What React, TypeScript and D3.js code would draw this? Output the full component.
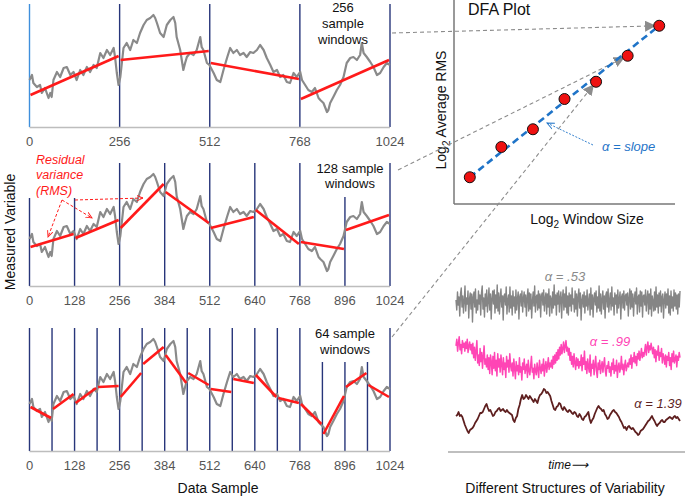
import React from 'react';
import * as d3 from 'd3';

// ---------- data ----------
const signalSample = [0,7,11,21,30,35,44,54,59,63,68,78,87,97,106,116,125,134,144,153,163,172,182,191,201,210,220,229,239,243,248,253,258,267,276,286,295,305,314,324,333,343,352,357,362,371,381,390,400,409,414,418,428,437,442,447,456,466,475,485,489,494,504,511,523,532,542,551,561,570,579,589,598,608,617,627,636,646,655,665,674,684,693,703,712,721,731,740,750,759,769,774,783,792,802,811,821,826,835,845,849,854,863,873,882,892,901,911,920,930,939,944,949,958,968,977,987,996,1006,1015,1024];
const signalValue = [47,52,44,40,42,34,39,29,34,30,47,55,50,59,60,52,55,47,57,52,60,55,62,59,74,69,77,72,79,70,54,42,50,79,84,77,87,84,94,102,107,109,112,109,104,94,90,102,107,110,104,90,77,57,64,70,74,72,77,90,80,77,64,62,54,47,45,57,69,79,74,77,72,74,70,75,74,77,82,77,69,62,55,57,50,52,45,44,54,50,55,47,42,37,35,39,29,27,24,15,17,24,30,37,42,50,64,69,70,67,72,84,74,70,65,60,52,54,60,64,62];

const fits256 = [[32,71],[67,76],[64,48],[28,67]];
const fits128 = [[39,52],[48,66],[58,102],[94,63],[58,69],[76,42],[44,37],[56,71]];
const fits64 = [[44,33],[42,57],[48,63],[64,65],[54,78],[87,104],[96,68],[78,66],[62,59],[72,68],[76,54],[53,48],[47,27],[17,55],[64,78],[66,54]];

const ticks256 = [0,256,512,768,1024];
const ticks128 = [0,128,256,384,512,640,768,896,1024];

const windowSizes = [4,8,16,32,64,128,256];
const log2AvgRMS = [1.07,2.28,2.99,4.2,4.89,5.93,7.13];

const grayNoise = [
  3,-7,11,-2,6,-13,9,15,-4,7,-10,2,17,-8,5,-1,12,-15,4,10,-6,9,-19,6,11,-4,14,-10,3,-7,
  12,-1,8,-12,10,17,-6,5,-14,9,-3,13,-9,2,15,-7,9,-16,4,12,-1,13,-10,8,-5,18,-8,10,-11,5,
  14,-4,7,-17,7,9,-2,16,-11,3,8,-9,16,-5,7,-12,12,-3,6,-10,13,-7,4,11,-16,6,9,-3,12,-9,
  5,11,-4,8,-13,5,14,-8,10,-6,9,-15,2,11,-3,17,-9,6,8,-7,12,-5,9,-14,7,10,-2,13,-8,5,
  10,-11,9,-4,14,-13,7,4,-10,11,-5,18,-2,8,-12,10,-1,12,-9,6,11,-15,5,13,-7,9,-4,16,-10,7,
  -12,10,-3,8,-8,15,-1,4,-9,12,-6,9,-13,6,14,-5,10,-17,3,8,-4,11,-10,7,-3,13,-7,2,9,-12,
  15,-6,8,-14,5,10,-2,12,-9,6,-5,17,-8,9,-11,4,12,-6,7,-15,8,11,-4,14,-9,3,10,-7,16,-3,
  5,-12,10,-1,8,-10,13,-5,4,11,-16,6,9,-5,12,-7,7,9,-2,10,-13,5,14,-6,12,-4,9,-13,4,11,
  -1,15,-11,6,8,-9,12,-3,11,-14,7,8,-2,13,-8,5,12,-11,9,-6,14,-13,7,2,-8,11,-7,16,-4,8,
  -10,10,-3,12,-9,6,9,-15,3,11,-5,9,-2,14,-10,7,-12,12,-5,6,-8,13,-3,10,-6,8,-11,9,-4,12
];
const pinkNoise = [
  10,15,6,12,17,7,11,4,14,9,12,6,13,8,15,5,10,13,7,11,
  4,12,1,9,-1,6,14,-3,3,-5,8,-2,5,-7,2,10,-4,0,-6,3,
  -8,1,-11,3,-2,-12,2,-7,5,-9,-1,-13,4,-6,0,-10,3,-4,-12,1,-8,-3,-14,2,-6,-1,-10,4,-5,-9,
  -3,-13,0,-7,-15,-2,-9,-5,-12,1,-10,-6,-16,-3,-8,0,-11,-7,-4,-14,-1,-9,-12,-5,2,-10,-7,-15,-4,-9,
  -12,-3,-8,-14,-1,-7,-11,-4,-9,0,-13,-6,-2,-10,-5,1,-8,-3,-6,-1,
  -7,2,-4,3,-3,5,-1,7,0,9,3,11,4,8,13,5,10,14,6,9,
  3,8,-1,5,-4,2,-6,4,-3,-8,1,-5,0,-7,-2,
  -5,3,-9,1,-4,6,-8,-2,-11,0,-6,-10,3,-13,-4,-7,-1,-12,-5,2,-9,-14,-3,-8,-1,-11,-6,-2,-10,-4,1,-9,-13,-5,-7,
  -2,-10,-6,-13,-3,-8,0,-11,-5,-9,-1,-14,-6,-3,-10,-7,2,-8,-4,-12,-5,-1,-9,-6,-3,
  -6,0,-4,3,-7,1,-2,5,-3,2,-5,4,0,6,-1,3,8,1,5,2,
  6,11,3,9,13,5,10,7,12,8,
  4,9,1,7,-2,6,3,10,-1,5,2,8,-3,4,1,
  -4,3,-6,2,-1,5,-5,1,-8,4,-2,6,-3,0,3,-6,2,-1,5,1
];
const brownNoise = [7,8,11,7,8,6,2,-2,-5,-8,-10,-7,-6,-5,-3,0,2,4,7,10,10,11,14,17,19,15,12,13,10,7,8,11,12,14,15,12,13,14,12,11,13,11,10,9,8,3,1,5,7,14,18,24,28,24,25,28,26,24,27,25,23,21,24,22,20,25,28,29,31,34,33,30,31,29,27,22,18,14,13,16,17,20,19,15,13,16,14,12,11,13,12,10,9,11,10,7,6,9,7,4,3,6,7,9,11,4,0,3,5,9,12,15,17,15,14,12,13,9,7,4,5,8,10,12,13,11,10,8,6,3,1,-2,-5,-4,-7,-4,-3,-5,-6,-5,-7,-9,-10,-12,-11,-8,-7,-6,-4,-2,0,2,3,5,7,4,2,-1,-3,-1,0,2,3,1,1,3,4,5,6,5,4,6,7,5,6,4,2];

const alphaLabels = ['.53', '.99', '1.39'];

// ---------- layout ----------
const W = 685, H = 499;
const FONT = '"Liberation Sans", Arial, Helvetica, sans-serif';
const NAVY = '#27357a';
const RED = '#ff1a1a';
const BLUE = '#1f74c8';
const GRAYLINE = '#8a8a8a';

const x = d3.scaleLinear().domain([0, 1024]).range([29.5, 390]);

const panels = [
  { win: 256, base: 127, ticks: ticks256, fits: fits256 },
  { win: 128, base: 286, ticks: ticks128, fits: fits128 },
  { win: 64, base: 451, ticks: ticks128, fits: fits64 },
];

const dx = d3.scaleLinear().domain([1.5, 8.5]).range([454, 675]);
const dy = d3.scaleLinear().domain([0, 8]).range([204, 4]);

function Panel({ p, idx }: { p: any; idx: number }) {
  const y = d3.scaleLinear().domain([0, 123]).range([p.base, p.base - 123]);
  const pts = signalSample.map((s, i) => [x(s), y(signalValue[i])] as [number, number]);
  const line = d3.line();
  const bounds = d3.range(0, 1024 + 1, p.win);
  return (
    <g>
      {bounds.map((b: number, i: number) => (
        <line key={'v' + b} x1={x(b)} x2={x(b)} y1={p.base - 123} y2={p.base}
          stroke={idx === 0 && i === 0 ? '#3f8fdc' : NAVY} strokeWidth={1.4} />
      ))}
      <line x1={x(0)} x2={x(1024)} y1={p.base + 0.5} y2={p.base + 0.5} stroke="#bdbdbd" strokeWidth={1.5} />
      <path d={line(pts) || ''} fill="none" stroke={GRAYLINE} strokeWidth={2.2} strokeLinejoin="round" />
      {p.fits.map((f: number[], i: number) => {
        const s0 = i * p.win, s1 = (i + 1) * p.win;
        return <line key={'f' + i} x1={x(s0) + 1} x2={x(s1) - 1} y1={y(f[0])} y2={y(f[1])} stroke={RED} strokeWidth={2.6} />;
      })}
      {p.ticks.map((t: number) => (
        <text key={'t' + t} x={x(t)} y={p.base + 19} textAnchor="middle" fontSize={13} fill="#555" fontFamily={FONT}>{t}</text>
      ))}
    </g>
  );
}

export default function App() {
  const dfaPts = windowSizes.map((w, i) => [dx(Math.log2(w)), dy(log2AvgRMS[i])] as [number, number]);
  const first = dfaPts[0], last = dfaPts[dfaPts.length - 1];

  const toward = (sx: number, sy: number, t: [number, number], gap: number) => {
    const ddx = t[0] - sx, ddy = t[1] - sy;
    const len = Math.hypot(ddx, ddy);
    return [t[0] - (ddx / len) * gap, t[1] - (ddy / len) * gap];
  };
  const connectors = [
    { sx: 392, sy: 33, target: dfaPts[6] },
    { sx: 398, sy: 170, target: dfaPts[5] },
    { sx: 392, sy: 337, target: dfaPts[4] },
  ];

  const series = [
    { data: grayNoise, color: '#858585', cy: 303, amp: 20, dom: 20, label: alphaLabels[0], lx: 565, ly: 281, lc: '#8a8a8a', sw: 1.4 },
    { data: pinkNoise, color: '#ff45b5', cy: 359, amp: 21, dom: 16, label: alphaLabels[1], lx: 610, ly: 346, lc: '#ff45b5', sw: 1.5 },
    { data: brownNoise, color: '#5e1f1f', cy: 423, amp: 20, dom: 20, label: alphaLabels[2], lx: 658, ly: 408, lc: '#5e1f1f', sw: 1.8 },
  ];

  return (
    <svg width={W} height={H} style={{ position: 'absolute', left: 0, top: 0, background: '#fff' }} fontFamily={FONT}>
      <defs>
        <marker id="grayArrowBig" viewBox="0 0 10 10" refX="2" refY="5" markerWidth="11" markerHeight="11" orient="auto" markerUnits="userSpaceOnUse">
          <path d="M0,0 L10,5 L0,10 z" fill="#8c8c8c" />
        </marker>
        <marker id="redArrow" viewBox="0 0 10 10" refX="9" refY="5" markerWidth="7" markerHeight="7" orient="auto" markerUnits="userSpaceOnUse">
          <path d="M0,1 L9,5 L0,9" fill="none" stroke={RED} strokeWidth={1.3} />
        </marker>
        <marker id="blueArrow" viewBox="0 0 10 10" refX="9" refY="5" markerWidth="8" markerHeight="8" orient="auto" markerUnits="userSpaceOnUse">
          <path d="M0,1 L9,5 L0,9" fill="none" stroke={BLUE} strokeWidth={1.2} />
        </marker>
      </defs>

      {panels.map((p, i) => <Panel key={i} p={p} idx={i} />)}

      {/* window labels */}
      <g fontSize={13} fill="#111" textAnchor="middle">
        <text x={343} y={12}>256</text>
        <text x={343} y={28}>sample</text>
        <text x={343} y={44}>windows</text>
        <rect x={312} y={160} width={76} height={37} fill="#fff" />
        <text x={350} y={173}>128 sample</text>
        <text x={350} y={188}>windows</text>
        <rect x={311} y={326} width={68} height={36} fill="#fff" />
        <text x={345} y={338}>64 sample</text>
        <text x={345} y={354}>windows</text>
      </g>

      {/* residual annotation */}
      <rect x={27} y={156} width={62} height={42} fill="#fff" />
      <g fontSize={12.5} fill={RED} fontStyle="italic">
        <text x={36} y={164}>Residual</text>
        <text x={36} y={179}>variance</text>
        <text x={36} y={195}>(RMS)</text>
      </g>
      <g stroke={RED} strokeWidth={1} strokeDasharray="3,2" fill="none">
        <line x1={62} y1={200} x2={48} y2={237} markerEnd="url(#redArrow)" />
        <line x1={62} y1={200} x2={92} y2={218} markerEnd="url(#redArrow)" />
        <line x1={75} y1={200} x2={143} y2={198} markerEnd="url(#redArrow)" />
      </g>

      {/* axis titles left */}
      <text transform="translate(15,232) rotate(-90)" textAnchor="middle" fontSize={14} fill="#111">Measured Variable</text>
      <text x={218} y={493} textAnchor="middle" fontSize={14} fill="#111">Data Sample</text>

      {/* DFA plot */}
      <line x1={454} y1={0} x2={454} y2={204} stroke="#777" strokeWidth={1.5} />
      <line x1={454} y1={204} x2={675} y2={204} stroke="#777" strokeWidth={1.5} />
      <text x={468} y={15} fontSize={16} fill="#111">DFA Plot</text>
      <text transform="translate(446,110) rotate(-90)" textAnchor="middle" fontSize={14} fill="#111">
        Log<tspan fontSize={10} dy={4}>2</tspan><tspan dy={-4}> Average RMS</tspan>
      </text>
      <text x={587} y={224} textAnchor="middle" fontSize={14} fill="#111">
        Log<tspan fontSize={10} dy={4}>2</tspan><tspan dy={-4}> Window Size</tspan>
      </text>

      {/* connectors */}
      {connectors.map((c, i) => {
        const e = toward(c.sx, c.sy, c.target, 12);
        return <line key={'c' + i} x1={c.sx} y1={c.sy} x2={e[0]} y2={e[1]} stroke="#8c8c8c" strokeWidth={1.1}
          strokeDasharray="4,3" markerEnd="url(#grayArrowBig)" />;
      })}

      <line x1={first[0]} y1={first[1]} x2={last[0]} y2={last[1]} stroke={BLUE} strokeWidth={2.6} strokeDasharray="7,4" />
      {dfaPts.map((pt, i) => (
        <circle key={'d' + i} cx={pt[0]} cy={pt[1]} r={5.5} fill="#ee1111" stroke="#111" strokeWidth={1} />
      ))}
      <line x1={593} y1={145} x2={547} y2={123} stroke={BLUE} strokeWidth={0.9} strokeDasharray="2,1.5" markerEnd="url(#blueArrow)" />
      <text x={602} y={151} fontSize={13} fill={BLUE} fontStyle="italic">α = slope</text>

      {/* structures of variability */}
      {series.map((s, i) => {
        const sx = d3.scaleLinear().domain([0, s.data.length - 1]).range([456, 680]);
        const sy = d3.scaleLinear().domain([-s.dom, s.dom]).range([s.cy + s.amp, s.cy - s.amp]);
        const l = d3.line<number>().x((_, j) => sx(j)).y(v => sy(v));
        return (
          <g key={'s' + i}>
            <path d={l(s.data) || ''} fill="none" stroke={s.color} strokeWidth={s.sw} strokeLinejoin="round" />
            <text x={s.lx} y={s.ly} textAnchor="middle" fontSize={13} fontStyle="italic" fill={s.lc}>α = {s.label}</text>
          </g>
        );
      })}
      <line x1={448} y1={452} x2={685} y2={452} stroke="#aaa" strokeWidth={1.5} />
      <text x={568} y={469} textAnchor="middle" fontSize={12} fontStyle="italic" fill="#111">time⟶</text>
      <text x={565} y={493} textAnchor="middle" fontSize={14} fill="#111">Different Structures of Variability</text>
    </svg>
  );
}
